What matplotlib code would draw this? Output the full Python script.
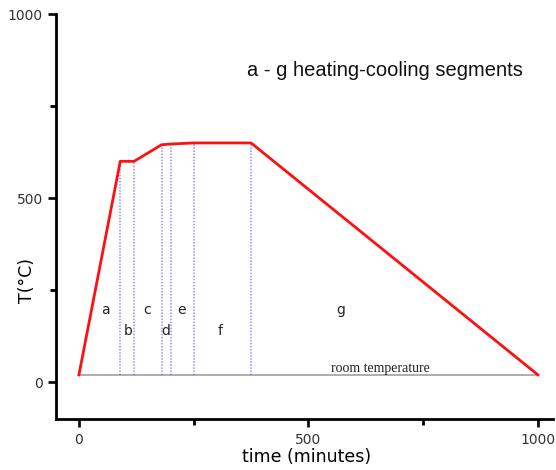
import matplotlib
matplotlib.use("Agg")
import matplotlib.pyplot as plt

# Data
time_pts = [0, 90, 120, 180, 200, 250, 375, 1000]
temp_pts = [20, 600, 600, 645, 647, 650, 650, 20]
room_temp = 20
seg_bounds_t = [90, 120, 180, 200, 250, 375]
seg_bounds_T = [600, 600, 645, 647, 650, 650]
seg_labels = ["a", "b", "c", "d", "e", "f", "g"]
seg_label_x = [57, 107, 148, 190, 224, 307, 571]
seg_label_y = [196, 139, 196, 139, 196, 139, 196]

fig = plt.figure(figsize=(5.56, 4.70), dpi=100)
ax = fig.add_axes([0.1007, 0.1085, 0.894, 0.8615])

ax.plot([0, 1000], [room_temp, room_temp], color="#a0a0a0", lw=1.2, zorder=1)
for t, T in zip(seg_bounds_t, seg_bounds_T):
    ax.plot([t, t], [room_temp, T], color="#6a6aff", lw=1.1, ls=(0, (1, 1)), alpha=0.75, zorder=1)
ax.plot(time_pts, temp_pts, color="#ff1010", lw=2, zorder=3)

for lab, x, y in zip(seg_labels, seg_label_x, seg_label_y):
    ax.text(x, y, lab, fontsize=10, ha="center", va="center", color="#222222")

ax.text(656, 36, "room temperature", fontsize=10, family="Liberation Serif",
        ha="center", va="center", color="#222222")
ax.text(667, 848, "a - g heating-cooling segments", fontsize=14.5,
        family="Liberation Sans", ha="center", va="center", color="#111111")

ax.set_xlim(-50, 1033)
ax.set_ylim(-100, 1000)
ax.set_xticks([0, 500, 1000])
ax.set_xticks([250, 750], minor=True)
ax.set_yticks([0, 500, 1000])
ax.set_yticks([250, 750], minor=True)
for s in ["top", "right"]:
    ax.spines[s].set_visible(False)
for s in ["left", "bottom"]:
    ax.spines[s].set_linewidth(2)
ax.tick_params(which="major", length=6, width=2, labelsize=10, colors="#111111", labelcolor="#333333")
ax.tick_params(axis="x", which="major", pad=4)
ax.tick_params(which="minor", length=4, width=2)
ax.set_xlabel("time (minutes)", fontsize=12.5, va="center")
ax.xaxis.set_label_coords(0.505, -0.093)
ax.set_ylabel("T(°C)", fontsize=12.5, va="center")
ax.yaxis.set_label_coords(-0.058, 0.343)

fig.savefig("out.png", dpi=100)
